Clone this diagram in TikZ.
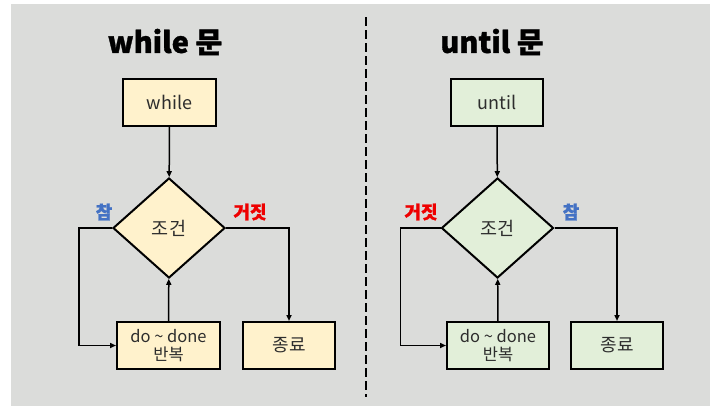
\documentclass[tikz,border=0pt]{standalone}
\usepackage{fontspec}
\setmainfont{Noto Sans CJK KR}
\newfontfamily\heavyfont[BoldFeatures={FakeBold=1.2}]{Noto Sans CJK KR}
\usetikzlibrary{shapes.geometric,arrows.meta}
\definecolor{bggray}{RGB}{219,220,218}
\definecolor{ylw}{RGB}{255,242,204}
\definecolor{grn}{RGB}{226,239,217}
\definecolor{txtgray}{RGB}{45,45,45}
\definecolor{lblblue}{RGB}{68,114,196}
\definecolor{lblred}{RGB}{238,0,0}
\tikzset{
  box/.style={draw=black, line width=2pt, rectangle, minimum height=47pt, inner sep=0pt, text=txtgray, font=\fontsize{18}{20}\selectfont, align=center},
  cond/.style={draw=black, line width=2pt, diamond, minimum width=112pt, minimum height=100pt, inner sep=0pt, text=txtgray, font=\fontsize{18.5}{20}\selectfont},
  arr/.style={line width=1.5pt, -{Triangle[length=6pt,width=5pt]}},
  title/.style={font=\fontsize{29}{32}\selectfont\heavyfont\bfseries},
  lbl/.style={font=\fontsize{18}{20}\selectfont\heavyfont\bfseries},
  dotxt/.style={font=\fontsize{16.5}{18}\selectfont},
}
\begin{document}
\begin{tikzpicture}[x=1pt,y=-1pt]
\useasboundingbox (0,0) rectangle (716,408);
\fill[white] (0,0) rectangle (716,408);
\fill[bggray] (11,4) rectangle (710,406);
% titles
\node[title] (t1) at (165,42) {while 문};
\node[title] (t2) at (492,42) {until 문};
% divider
\coordinate (dtop) at (366,17);
\coordinate (dbot) at (366,397);
\draw[line width=2.4pt, dash pattern=on 9pt off 4pt] (dtop) -- (dbot);
% left: while
\node[box, fill=ylw, minimum width=93pt] (w) at (169.5,102) {while};
\node[cond, fill=ylw] (d1) at (169,228) {조건};
\node[box, fill=ylw, minimum width=103pt, dotxt] (do1) at (168.5,345.5) {do \char"007E\ done\\반복};
\node[box, fill=ylw, minimum width=92pt] (e1) at (289,345.5) {종료};
\draw[arr] (w) -- (d1);
\draw[arr] (do1) -- (d1);
\draw[arr] (d1.west) -- ++(-33,0) |- (do1.west);
\draw[arr] (d1.east) -| (e1.north);
\node[lbl, text=lblblue] (l1) at (104,212) {참};
\node[lbl, text=lblred] (l2) at (250,212) {거짓};
% right: until
\node[box, fill=grn, minimum width=92pt] (u) at (497,102) {until};
\node[cond, fill=grn] (d2) at (497.5,228) {조건};
\node[box, fill=grn, minimum width=102pt, dotxt] (do2) at (498,345.5) {do \char"007E\ done\\반복};
\node[box, fill=grn, minimum width=92pt] (e2) at (617,345.5) {종료};
\draw[arr] (u) -- (d2);
\draw[arr] (do2) -- (d2);
\draw[arr] (d2.west) -- ++(-40,0) |- (do2.west);
\draw[arr] (d2.east) -| (e2.north);
\node[lbl, text=lblred] (l3) at (421,212) {거짓};
\node[lbl, text=lblblue] (l4) at (571,212) {참};
\end{tikzpicture}
\end{document}
